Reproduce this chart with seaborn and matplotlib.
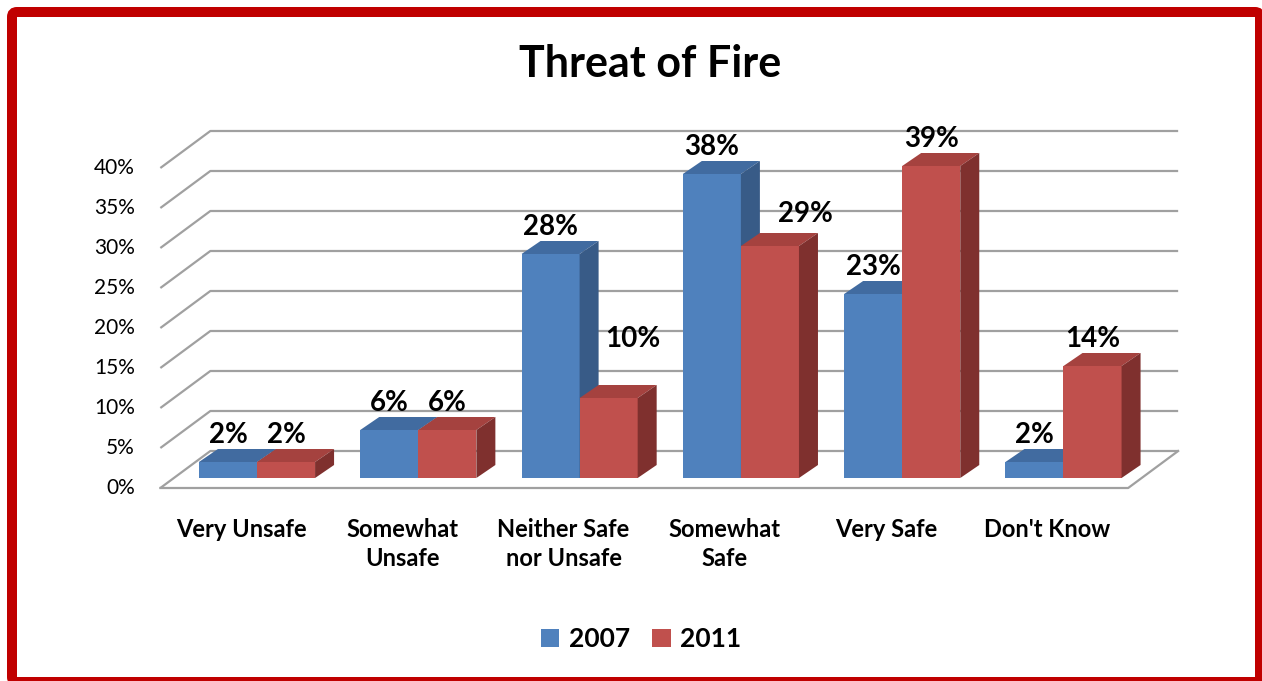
import numpy as np
import pandas as pd
import matplotlib
matplotlib.use("Agg")
import matplotlib.pyplot as plt
import seaborn as sns
from matplotlib.patches import Polygon, FancyBboxPatch, Patch

# ---------------- data ----------------
categories = ["Very Unsafe", "Somewhat\nUnsafe", "Neither Safe\nnor Unsafe",
              "Somewhat\nSafe", "Very Safe", "Don't Know"]
series_names = ["2007", "2011"]
values_2007 = [2, 6, 28, 38, 23, 2]
values_2011 = [2, 6, 10, 29, 39, 14]
y_ticks = [0, 5, 10, 15, 20, 25, 30, 35, 40]
y_tick_labels = ["0%", "5%", "10%", "15%", "20%", "25%", "30%", "35%", "40%"]
title = "Threat of Fire"

# ---------------- style ----------------
front_colors = {"2007": "#4F81BD", "2011": "#C0504D"}
top_colors = {"2007": "#416BA0", "2011": "#A5423F"}
side_colors = {"2007": "#385B87", "2011": "#7F302E"}
grid_color = "#A0A0A0"
FONT = "Lato"

W, H = 1262, 681
PX_X0, PX_CAT = 257.0, 161.3   # pixel x of first category's bar pair centre, spacing
PX_Y0, PX_PER = 478.0, 8.0     # pixel y (from top) of 0 on bar front plane, px per %

# depth offsets (data units)
DX, DY = 19 / PX_CAT, 13 / PX_PER          # bar depth
SHIFT = 16 / PX_CAT                        # box front plane vs bar front plane (x)
FY = -10 / PX_PER                          # box front plane vs bar front plane (y)
DXB, DYB = 50 / PX_CAT, 37 / PX_PER        # box depth

df = pd.DataFrame({
    "category": categories * 2,
    "year": [series_names[0]] * len(categories) + [series_names[1]] * len(categories),
    "value": values_2007 + values_2011,
})

fig = plt.figure(figsize=(W / 100, H / 100), dpi=100)
ax = fig.add_axes([0, 0, 1, 1])

sns.barplot(data=df, x="category", y="value", hue="year", order=categories,
            hue_order=series_names, palette=front_colors, width=0.72, gap=0,
            saturation=1, legend=False, ax=ax, linewidth=0, errorbar=None)

ax.set_xlim((0 - PX_X0) / PX_CAT, (W - PX_X0) / PX_CAT)
ax.set_ylim(-(H - PX_Y0) / PX_PER, PX_Y0 / PX_PER)
ax.axis("off")

n = len(categories)
xf0, xf1 = -0.5 - SHIFT, n - 0.5 - SHIFT

# gridlines (left wall diagonal + back wall)
for t in y_ticks:
    yf = t + FY
    ax.plot([xf0, xf0 + DXB, xf1 + DXB], [yf, yf + DYB, yf + DYB],
            color=grid_color, lw=1.6, zorder=0.5, solid_capstyle="butt")
# floor front edge and right edge
ax.plot([xf0, xf1, xf1 + DXB], [FY, FY, FY + DYB], color=grid_color, lw=1.6, zorder=0.5)

# y tick labels
for t, lab in zip(y_ticks, y_tick_labels):
    ax.text((135 - PX_X0) / PX_CAT, t + FY, lab, ha="right", va="center",
            fontsize=15, family=FONT, color="#000000")

# 3D faces on bars
label_nudges = {("2011", 2): (24, 32), ("2011", 3): (36, 5)}
for k, p in enumerate(ax.patches[:2 * n]):
    year = series_names[k // n]
    ci = k % n
    x0, w, h = p.get_x(), p.get_width(), p.get_height()
    z = 2 + ci * 0.1 + (k // n) * 0.05
    p.set_zorder(z)
    top = Polygon([(x0, h), (x0 + w, h), (x0 + w + DX, h + DY), (x0 + DX, h + DY)],
                  closed=True, facecolor=top_colors[year], edgecolor="none", zorder=z + 0.01)
    side = Polygon([(x0 + w, 0), (x0 + w + DX, DY), (x0 + w + DX, h + DY), (x0 + w, h)],
                   closed=True, facecolor=side_colors[year], edgecolor="none", zorder=z + 0.01)
    ax.add_patch(top)
    ax.add_patch(side)
    nx, ny = label_nudges.get((year, ci), (0, 0))
    ax.annotate(f"{h:.0f}%", (x0 + w / 2, h + DY), xytext=(nx, 6 + ny),
                textcoords="offset pixels", ha="center", va="baseline",
                fontsize=20, fontweight="bold", family=FONT, zorder=10)

# category labels
for i, c in enumerate(categories):
    ax.text(i - SHIFT, (PX_Y0 - 518) / PX_PER, c, ha="center", va="top",
            fontsize=17, fontweight="bold", family=FONT, linespacing=1.33)

# title
fig.text(650 / W, 1 - 77 / H, title, ha="center", va="baseline",
         fontsize=31, fontweight="bold", family=FONT)

# legend
handles = [Patch(facecolor=front_colors[s], edgecolor="none") for s in series_names]
leg = fig.legend(handles, series_names, loc="center", bbox_to_anchor=(641 / W, 1 - 639 / H),
                 ncol=2, frameon=False, handlelength=0.7, handleheight=0.7,
                 handletextpad=0.35, columnspacing=0.85,
                 prop={"family": FONT, "weight": "bold", "size": 19})

# red rounded border
border = FancyBboxPatch((12, -1), 1248, 670, boxstyle="round,pad=0,rounding_size=5",
                        transform=None, facecolor="none", edgecolor="#C00000",
                        linewidth=7.2, zorder=20)
fig.patches.append(border)

fig.savefig("out.png", dpi=100)
